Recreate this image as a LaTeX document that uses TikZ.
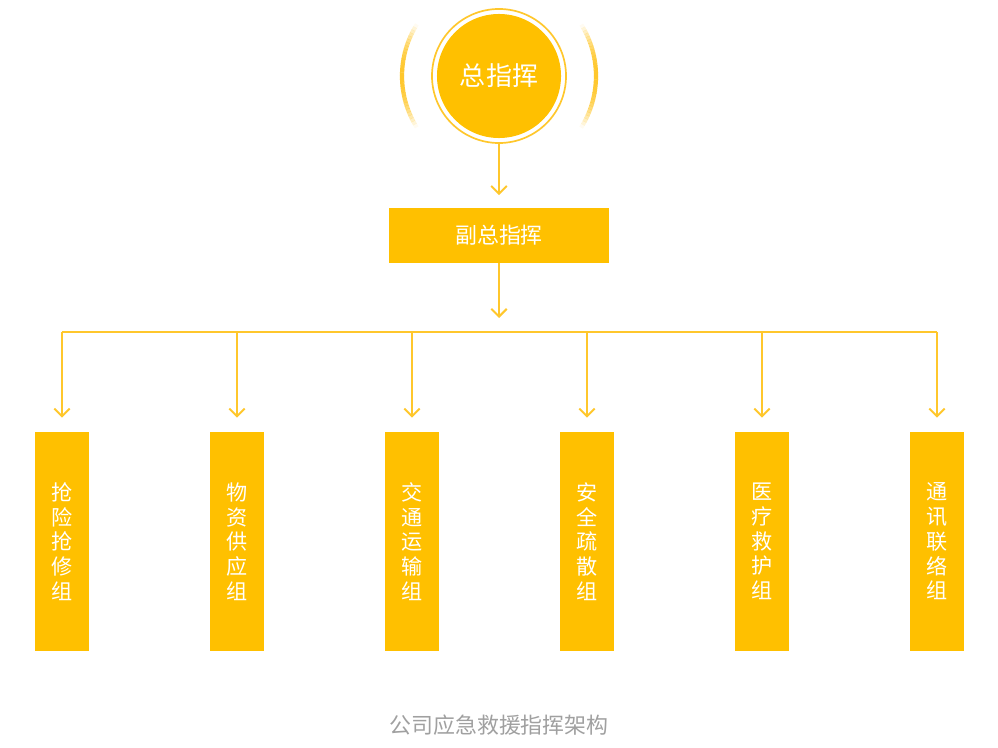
\documentclass[tikz,border=0pt]{standalone}
\usepackage{fontspec}
\setmainfont{Noto Sans CJK SC}
\usepackage{tikz}
\usetikzlibrary{arrows.meta,positioning}
\usepackage{xcolor}
\definecolor{emGold}{RGB}{255,192,0}
\definecolor{emLine}{RGB}{255,199,44}
\definecolor{emGrey}{RGB}{160,160,160}
\tikzset{
    groupbox/.style={
        fill=emGold,minimum width=1.35cm,minimum height=5.475cm,
        inner sep=0pt,align=center,text=white,
        font=\fontsize{15}{17.6}\selectfont
    },
    link/.style={
        -{Straight Barb[length=5.5pt,width=11pt,line width=1.4pt]},
        line width=1.4pt,draw=emLine
    },
    bus/.style={line width=1.4pt,draw=emLine},
    halo/.style={draw=emLine,line width=3pt,opacity=#1}
}

\begin{document}
\begin{tikzpicture}[x=0.025cm,y=-0.025cm]
\useasboundingbox (0,0) rectangle (998,748);

% top: chief
\node[circle,draw=emLine,line width=1.2pt,minimum size=3.35cm] (ring) at (499,76) {};
\node[circle,fill=emGold,minimum size=3.1cm,text=white,
      font=\fontsize{18.5}{22}\selectfont] (chief) at (499,76) {总指挥};
% fading side arcs
\foreach \a in {148,150,...,210}{
  \pgfmathsetmacro\op{max(0,1-((\a+1-180)/32)^2)}
  \draw[halo=\op] (chief.center) ++(\a:97) arc[start angle=\a,end angle=\a+2.2,radius=97];
  \draw[halo=\op] (chief.center) ++(\a-180:97) arc[start angle=\a-180,end angle=\a-177.8,radius=97];
}

% deputy
\node[fill=emGold,minimum width=5.475cm,minimum height=1.375cm,text=white,
      font=\fontsize{15.6}{18}\selectfont] (deputy) at (499,235.5) {副总指挥};
\draw[link,shorten >=9pt] (ring.south) -- (deputy.north);
\coordinate (split) at (499,318);
\draw[link] (deputy.south) -- (split);

% groups
\node[groupbox] (g1) at (62,541.5) {抢\\险\\抢\\修\\组};
\node[groupbox] (g2) at (237,541.5) {物\\资\\供\\应\\组};
\node[groupbox] (g3) at (412,541.5) {交\\通\\运\\输\\组};
\node[groupbox] (g4) at (587,541.5) {安\\全\\疏\\散\\组};
\node[groupbox] (g5) at (762,541.5) {医\\疗\\救\\护\\组};
\node[groupbox] (g6) at (937,541.5) {通\\讯\\联\\络\\组};

% bus and taps
\coordinate (b1) at (62,332);
\coordinate (b2) at (237,332);
\coordinate (b3) at (412,332);
\coordinate (b4) at (587,332);
\coordinate (b5) at (762,332);
\coordinate (b6) at (937,332);
\draw[bus] (b1) -- (b6);
\draw[link,shorten >=10pt] (b1) -- (g1.north);
\draw[link,shorten >=10pt] (b2) -- (g2.north);
\draw[link,shorten >=10pt] (b3) -- (g3.north);
\draw[link,shorten >=10pt] (b4) -- (g4.north);
\draw[link,shorten >=10pt] (b5) -- (g5.north);
\draw[link,shorten >=10pt] (b6) -- (g6.north);

% caption
\node[text=emGrey,font=\fontsize{15.6}{18}\selectfont] (caption) at (499,725) {公司应急救援指挥架构};

\end{tikzpicture}
\end{document}
